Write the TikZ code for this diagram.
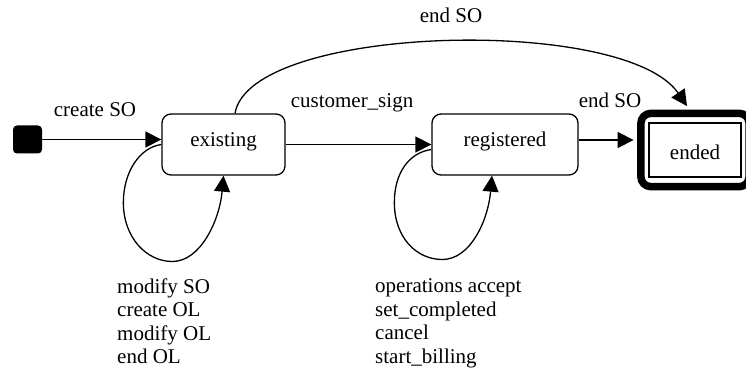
\documentclass[tikz,border=0pt]{standalone}
\usepackage{fontspec}
\setmainfont{Liberation Serif}
\usetikzlibrary{arrows.meta,calc,fit}
\begin{document}
\begin{tikzpicture}[x=1pt,y=-1pt,
  every node/.style={font=\fontsize{21}{23.5}\selectfont, inner sep=0pt},
  state/.style={draw, rounded corners=9pt, line width=1.3pt,
    text height=13pt, text depth=8pt},
  arr/.style={line width=1.3pt, -{Triangle[length=16pt,width=16pt]}},
  lbl/.style={anchor=base},
  notes/.style={anchor=north west, align=left}]
\useasboundingbox (0,0) rectangle (746,374);

% states
\node[fill=black, rounded corners=4pt, minimum width=29pt, minimum height=28pt]
  (init) at (27.5,139.5) {};
\node[state, minimum width=123pt, minimum height=61pt] (ex) at (223.5,144.5) {existing};
\node[state, minimum width=146pt, minimum height=61pt] (rg) at (505,144.5) {registered};
\node[draw, line width=1.3pt, minimum width=92pt, minimum height=54pt,
  text height=20pt, text depth=0pt] (en) at (695,150) {ended};
\node[draw, fit=(en), inner xsep=7.5pt, inner ysep=9pt, rounded corners=10pt,
  line width=7.5pt] (eo) {};

% transitions
\draw[arr] (init.east) -- (init.east -| ex.west);
\draw[arr] (ex) -- (rg);
\coordinate (rgout) at ($(rg.east)+(0,-4.5)$);
\draw[arr, shorten >=3.5pt] (rgout) -- (rgout -| eo.west);
\draw[arr] ($(ex.north)+(11.5,0)$) .. controls +(15,-89) and +(-62,-91)
  .. ($(eo.north)+(-8,-3.5)$);

% self loops
\draw[arr] (ex.west) .. controls +(-22,3) and +(0,-30) .. ($(ex.west)+(-38,58)$)
  .. controls +(0,35) and +(-26,0) .. ($(ex.west)+(11,117)$)
  .. controls +(28,0) and +(-4,45) .. (ex.south);
\draw[arr] ($(rg.west)+(0,5)$) .. controls +(-22,3) and +(0,-30) .. ($(rg.west)+(-37,58)$)
  .. controls +(0,35) and +(-26,0) .. ($(rg.west)+(11,115)$)
  .. controls +(28,0) and +(-4,45) .. ($(rg.south)+(-13,0)$);

% labels
\node[lbl] (l1) at (95,117) {create SO};
\node[lbl] (l2) at (352,108) {customer\_sign};
\node[lbl] (l3) at (610,108) {end SO};
\node[lbl] (l4) at (451,23) {end SO};
\node[notes] (l5) at (117,278.5) {modify SO\\create OL\\modify OL\\end OL};
\node[notes] (l6) at (375,278.5) {operations accept\\set\_completed\\cancel\\start\_billing};
\end{tikzpicture}
\end{document}
